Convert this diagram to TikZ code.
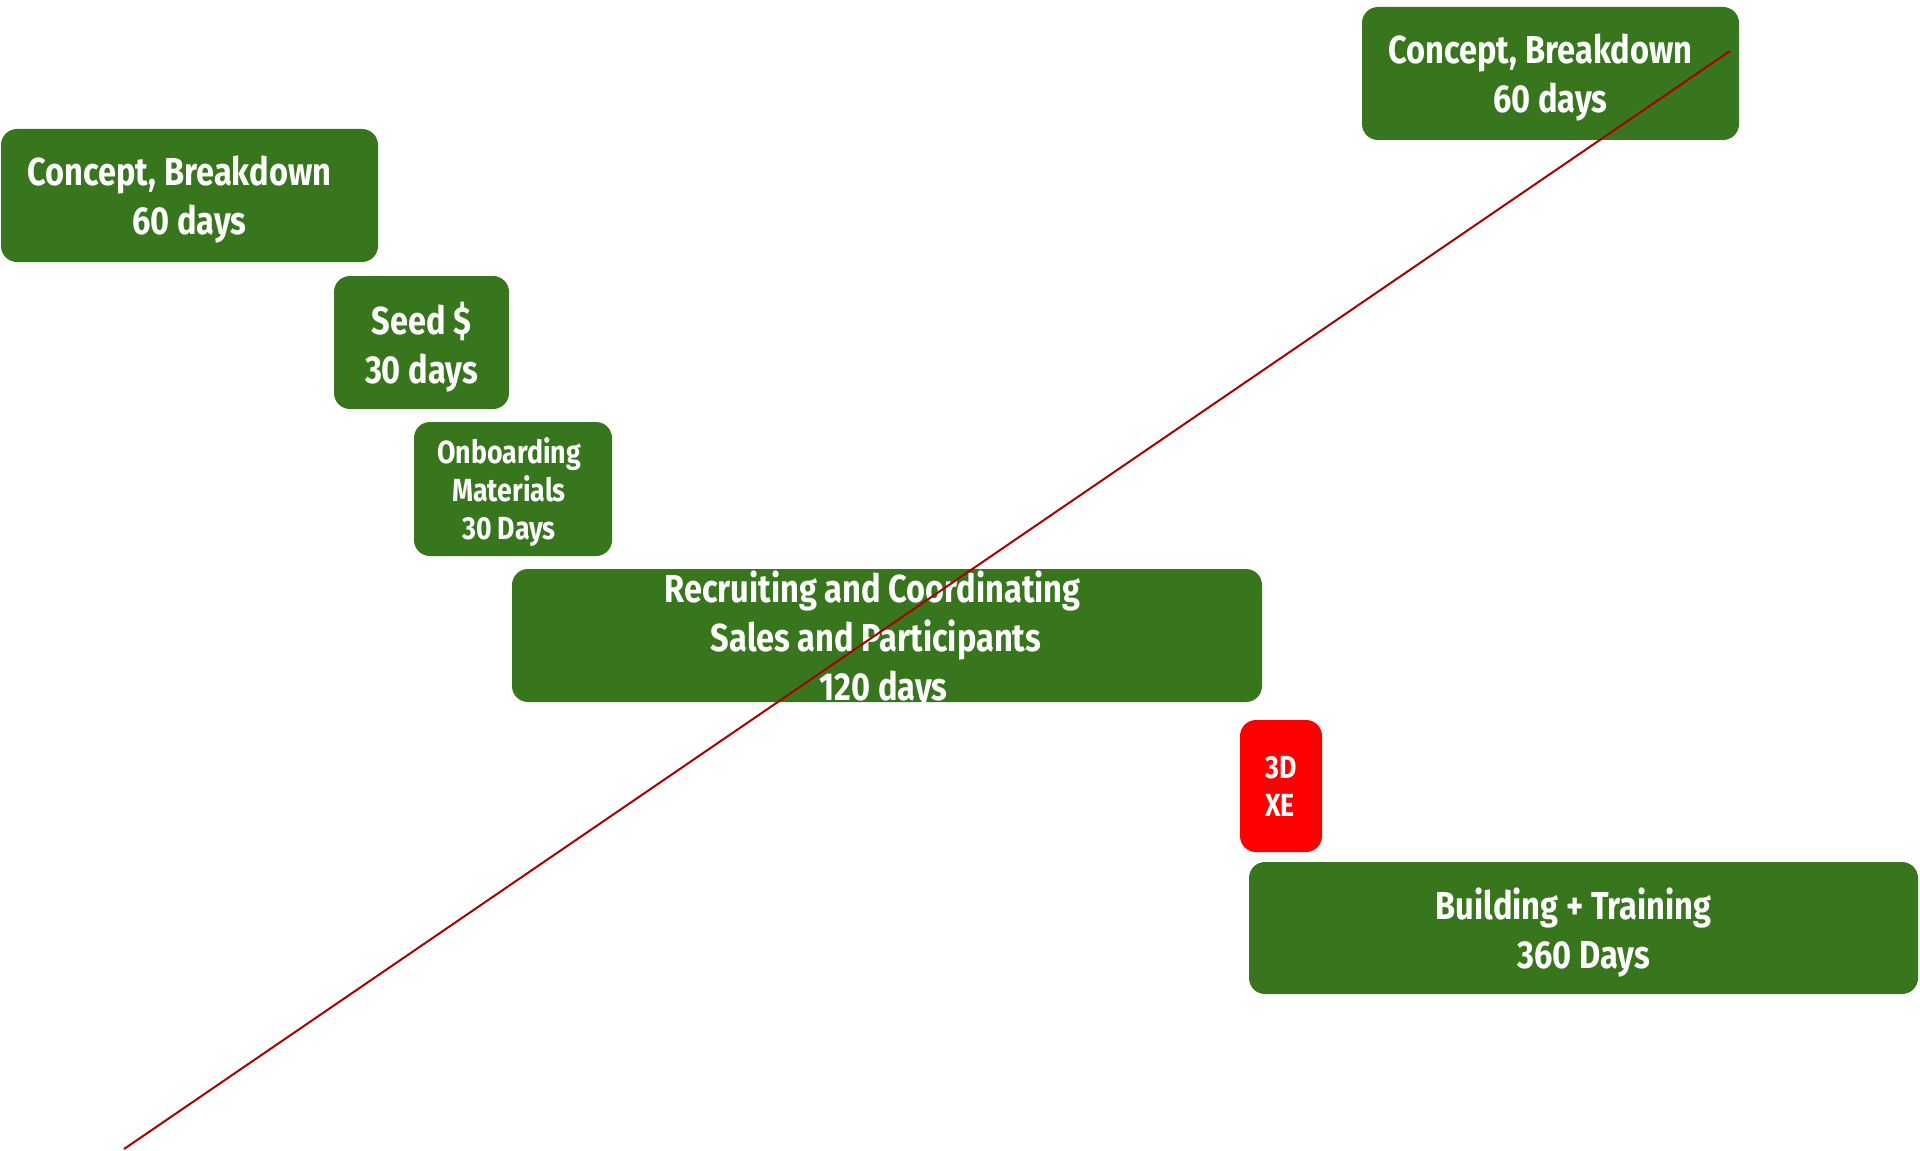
\documentclass[tikz,border=0pt]{standalone}
\usepackage{fontspec}
\setmainfont{Fira Sans}[FakeStretch=0.835]
\usepackage{tikz}
\definecolor{ggreen}{HTML}{38761D}
\definecolor{bred}{HTML}{FF0000}
\definecolor{dred}{HTML}{AA0000}

\begin{document}
\begin{tikzpicture}[x=0.5pt, y=-0.5pt, phase/.style={
         % The shape:
         rectangle, rounded corners=8pt,
         % The size:
         minimum height=66.5pt,
         % The filling
         fill=ggreen, draw=none,
         % Font
         text=white, align=center, inner sep=0pt, text depth=0pt,
         font=\bfseries\fontsize{19.5}{24.5}\selectfont},
         small/.style={font=\bfseries\fontsize{16}{19}\selectfont}]
   \useasboundingbox (0,0) rectangle (1920,1150);
   \node[phase, minimum width=188.5pt] (conceptA) at (189.5,195.5) {Concept, Breakdown\rule{10pt}{0pt}\\60 days};
   \node[phase, minimum width=188.5pt] (conceptB) at (1550.5,73.5) {Concept, Breakdown\rule{10pt}{0pt}\\60 days};
   \node[phase, minimum width=87.5pt] (seed) at (421.5,342.5) {Seed \$\\30 days};
   \node[phase, small, minimum width=99pt, minimum height=67pt] (onboard) at (513,489) {Onboarding\rule{4pt}{0pt}\\Materials\rule{4pt}{0pt}\\30 Days\rule{4pt}{0pt}};
   \node[phase, minimum width=375pt] (recruit) at (887,635.5) {Recruiting and Coordinating\rule{14.5pt}{0pt}\\Sales and Participants\rule{11pt}{0pt}\\120 days\rule{3.5pt}{0pt}};
   \node[phase, small, fill=bred, align=left, minimum width=41pt, minimum height=66pt] (xe) at (1281,786) {3D\\XE};
   \node[phase, minimum width=334.5pt, minimum height=66pt] (build) at (1583.5,928) {Building + Training\rule{10pt}{0pt}\\360 Days};
   % the rising line
   \coordinate (lineA) at (124,1149);
   \coordinate (lineB) at (1730,51);
   \draw [dred, line width=1pt] (lineA) -- (lineB);
\end{tikzpicture}
\end{document}
